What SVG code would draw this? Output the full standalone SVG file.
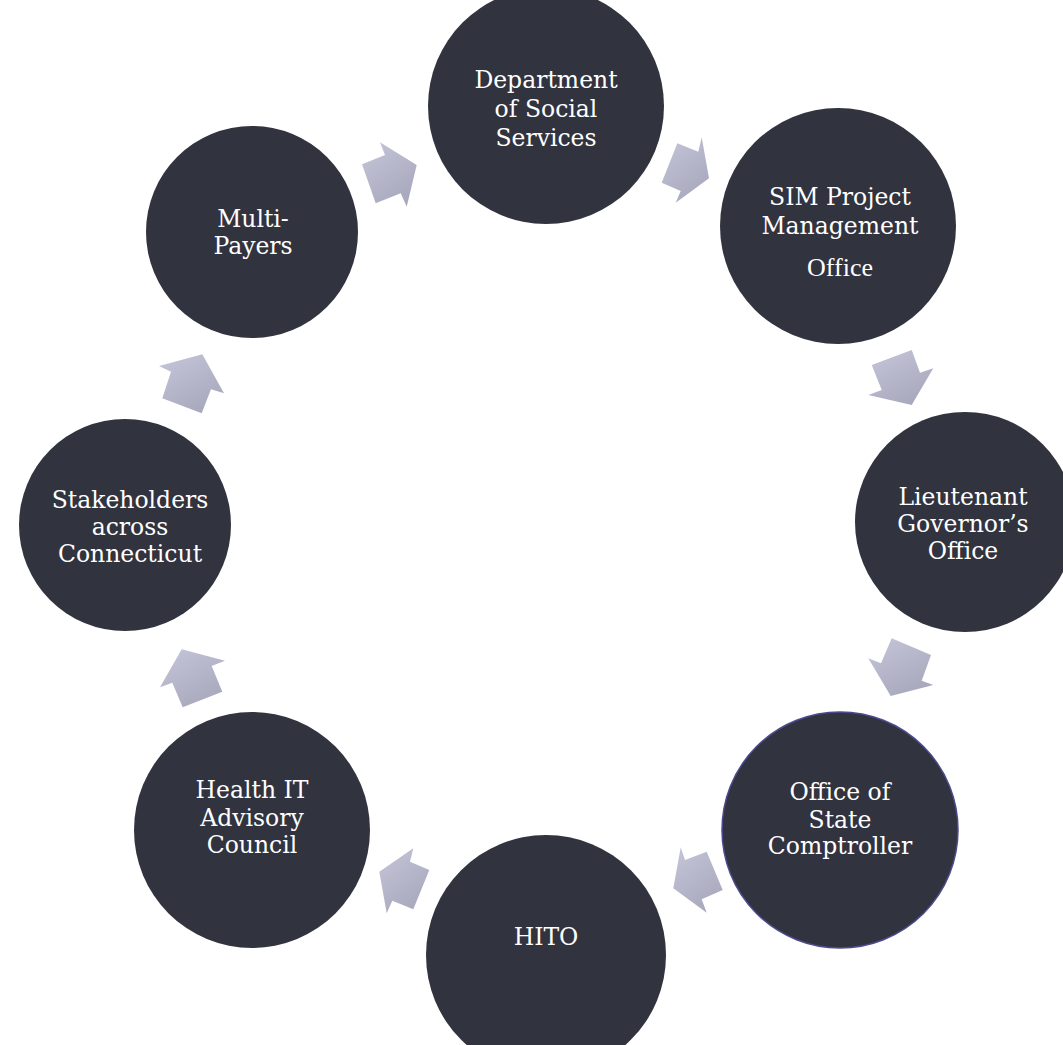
<svg xmlns="http://www.w3.org/2000/svg" width="1063" height="1045" viewBox="0 0 1063 1045">
<defs>
<linearGradient id="ag" x1="0" y1="0" x2="0.6" y2="1">
<stop offset="0" stop-color="#c6c6db"/>
<stop offset="1" stop-color="#a9a9be"/>
</linearGradient>
<style>
.node{fill:#31333f;}
.lbl{font-family:"DejaVu Serif","Liberation Serif",serif;font-size:23.5px;fill:#ffffff;text-anchor:middle;}
.lbl2{font-family:"Liberation Serif",serif;font-size:26px;fill:#ffffff;text-anchor:middle;}
.arr{fill:url(#ag);}
</style>
</defs>
<rect width="1063" height="1045" fill="#ffffff"/>
<g id="connectors">
<polygon class="arr" points="416.7,165 380,142.3 385,155 362,164.3 375.7,203.3 400.7,193.3 406.7,206.7"/>
<polygon class="arr" points="709,178.3 701.7,137.3 698.3,151.7 677.3,143.3 661.7,182.7 680.7,191 675.7,202.7"/>
<polygon class="arr" points="911.7,405 933.3,368.3 920,372.7 911.7,350 871.7,365 881.7,390 868.3,395"/>
<polygon class="arr" points="890.7,696 933.3,685 921.7,680.7 931,655 891.7,638.3 881,663.3 868.3,658.3"/>
<polygon class="arr" points="673.3,888.3 680.7,847.3 685,860 706.7,851.7 722.7,890 701.7,899.3 706.7,912.7"/>
<polygon class="arr" points="379.3,871.7 413.3,848.3 410,861.7 429.3,870 413.3,909.3 392.3,900.7 386.7,913.3"/>
<polygon class="arr" points="181.7,649.3 225,660.7 211.7,666 222.3,691.7 182.7,707.3 172.3,682.7 160,687.3"/>
<polygon class="arr" points="202.3,354.3 224,393.3 211,389.3 201.7,413.3 162.3,398.3 171,371.7 159,366"/>
</g>
<g id="dss">
<circle class="node" cx="546" cy="106" r="118"/>
<text class="lbl" x="546" y="88">Department</text>
<text class="lbl" x="546" y="117">of Social</text>
<text class="lbl" x="546" y="146">Services</text>
</g>
<g id="sim">
<circle class="node" cx="838" cy="226" r="118"/>
<text class="lbl" x="840" y="205">SIM Project</text>
<text class="lbl" x="840" y="234">Management</text>
<text class="lbl2" x="840" y="276">Office</text>
</g>
<g id="ltgov">
<circle class="node" cx="965" cy="522" r="110"/>
<text class="lbl" x="963" y="505">Lieutenant</text>
<text class="lbl" x="963" y="532">Governor’s</text>
<text class="lbl" x="963" y="559">Office</text>
</g>
<g id="osc">
<circle class="node" cx="840" cy="830" r="118" stroke="#4b4b8f" stroke-width="1.5"/>
<text class="lbl" x="840" y="800">Office of</text>
<text class="lbl" x="840" y="827.7">State</text>
<text class="lbl" x="840" y="854">Comptroller</text>
</g>
<g id="hito">
<circle class="node" cx="546" cy="955" r="120"/>
<text class="lbl" x="546" y="945">HITO</text>
</g>
<g id="hitac">
<circle class="node" cx="252" cy="830" r="118"/>
<text class="lbl" x="252" y="798">Health IT</text>
<text class="lbl" x="252" y="826">Advisory</text>
<text class="lbl" x="252" y="853">Council</text>
</g>
<g id="stake">
<circle class="node" cx="125" cy="525" r="106"/>
<text class="lbl" x="130" y="508">Stakeholders</text>
<text class="lbl" x="130" y="535">across</text>
<text class="lbl" x="130" y="562">Connecticut</text>
</g>
<g id="payers">
<circle class="node" cx="252" cy="232" r="106"/>
<text class="lbl" x="253" y="226.7">Multi-</text>
<text class="lbl" x="253" y="254">Payers</text>
</g>
</svg>
